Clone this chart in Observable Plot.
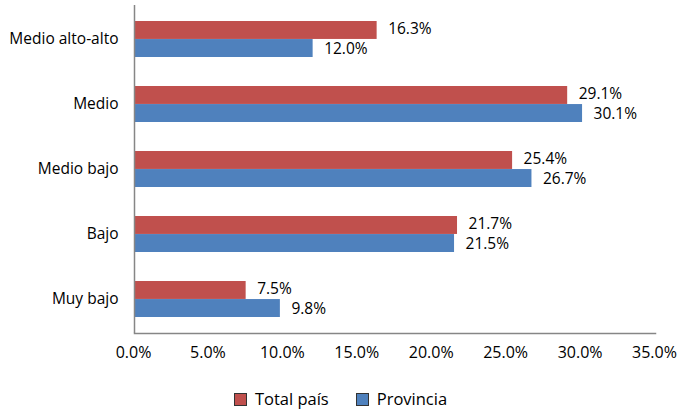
<!DOCTYPE html>
<html>
<head>
<meta charset="utf-8">
<script src="https://cdn.jsdelivr.net/npm/d3@7"></script>
<script src="https://cdn.jsdelivr.net/npm/@observablehq/plot@0.6"></script>
<style>
  html, body { margin: 0; padding: 0; background: #fff; }
  body { width: 677px; font-family: "Open Sans", sans-serif; }
  #legend { display: flex; justify-content: center; gap: 27px; font-size: 16.5px; color: #000; margin-top: 6px; padding-left: 4px; line-height: 20px; }
  #legend .item { display: flex; align-items: center; gap: 8px; }
  #legend .sw { width: 11px; height: 11px; border: 1px solid #333; }
</style>
</head>
<body>
<div id="chart"></div>
<div id="legend"></div>
<script>
const categories = ["Medio alto-alto", "Medio", "Medio bajo", "Bajo", "Muy bajo"];
const seriesNames = ["Total país", "Provincia"];
const totalPais = [16.3, 29.1, 25.4, 21.7, 7.5];
const provincia = [12.0, 30.1, 26.7, 21.5, 9.8];
const xTicks = [0, 5, 10, 15, 20, 25, 30, 35];
const colors = ["#C0504D", "#4F81BD"];

const fmt = d => d.toFixed(1) + "%";
const dataTotal = categories.map((c, i) => ({cat: c, v: totalPais[i]}));
const dataProv = categories.map((c, i) => ({cat: c, v: provincia[i]}));

const chart = Plot.plot({
  width: 677,
  height: 383,
  marginLeft: 134,
  marginRight: 22,
  marginTop: 5,
  marginBottom: 50,
  style: {fontFamily: "Open Sans, sans-serif", fontSize: "15px", color: "#000", background: "#fff"},
  x: {domain: [0, 35], label: null},
  y: {domain: categories, paddingInner: 0.45, paddingOuter: 0.225, label: null},
  marks: [
    Plot.barX(dataTotal, {x: "v", y: "cat", fill: colors[0], insetBottom: 18.05}),
    Plot.barX(dataProv, {x: "v", y: "cat", fill: colors[1], insetTop: 18.05}),
    Plot.text(dataTotal, {x: "v", y: "cat", text: d => fmt(d.v), dx: 11, dy: -10, textAnchor: "start", fontSize: 15.5, fill: "#000"}),
    Plot.text(dataProv, {x: "v", y: "cat", text: d => fmt(d.v), dx: 11, dy: 10, textAnchor: "start", fontSize: 15.5, fill: "#000"}),
    Plot.axisX({ticks: xTicks, tickFormat: fmt, tickSize: 0, tickPadding: 13, fontSize: 16, dx: -1, fill: "#000", label: null}),
    Plot.axisY({tickSize: 0, tickPadding: 16, fontSize: 15.5, fill: "#000", label: null}),
    Plot.ruleX([0], {stroke: "#868686", strokeWidth: 1.5}),
    Plot.frame({anchor: "bottom", stroke: "#868686", strokeWidth: 1.5})
  ]
});
document.getElementById("chart").appendChild(chart);

const legend = document.getElementById("legend");
seriesNames.forEach((name, i) => {
  const item = document.createElement("div");
  item.className = "item";
  const sw = document.createElement("div");
  sw.className = "sw";
  sw.style.background = colors[i];
  const label = document.createElement("span");
  label.textContent = name;
  item.appendChild(sw);
  item.appendChild(label);
  legend.appendChild(item);
});
</script>
</body>
</html>
